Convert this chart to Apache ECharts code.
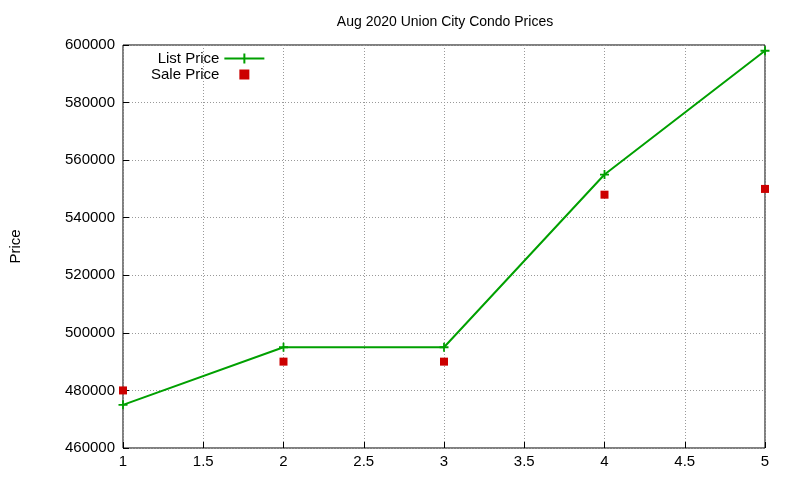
<!DOCTYPE html>
<html><head><meta charset="utf-8">
<script src="https://cdn.jsdelivr.net/npm/echarts@6/dist/echarts.min.js"></script>
<style>html,body{margin:0;background:#fff}#c{width:800px;height:480px}</style>
</head><body><div id="c"></div>
<script>
const xs = [1, 2, 3, 4, 5];
const listPrice = [475000, 495000, 495000, 555000, 598000];
const salePrice = [480000, 490000, 490000, 548000, 550000];
const title = 'Aug 2020 Union City Condo Prices';
const yName = 'Price';

const chart = echarts.init(document.getElementById('c'));
const font = {fontFamily: 'Liberation Sans, Arial', fontSize: 15, color: '#000'};
chart.setOption({
  animation: false,
  title: {text: title, left: 440, top: 10, textAlign: 'center',
    textStyle: {fontFamily: 'Liberation Sans', fontSize: 14, fontWeight: 'normal', color: '#000'}},
  grid: {left: 119, right: 35, top: 45, bottom: 32, show: true, borderColor: '#000', borderWidth: 1},
  legend: {orient: 'vertical', left: 146, top: 46, align: 'right', itemGap: 1, itemWidth: 40, itemHeight: 10,
    textStyle: font,
    data: [{name: 'List Price', icon: 'path://M0,4h40v2h-40zM19,0h2v10h-2z'},
           {name: 'Sale Price', icon: 'path://M16,1h8v8h-8z'}]},
  xAxis: {type: 'value', min: 1, max: 5, interval: 0.5,
    axisLine: {show: false}, axisTick: {inside: true, length: 6, lineStyle: {color: '#000'}},
    axisLabel: Object.assign({margin: 6}, font),
    splitLine: {lineStyle: {type: [1, 2], color: '#999'}}},
  yAxis: {type: 'value', min: 460000, max: 600000, interval: 20000,
    name: yName, nameLocation: 'middle', nameGap: 100, nameTextStyle: font,
    axisLine: {show: false}, axisTick: {show: true, inside: true, length: 6, lineStyle: {color: '#000'}},
    axisLabel: Object.assign({margin: 8, formatter: v => String(v)}, font),
    splitLine: {lineStyle: {type: [1, 2], color: '#999'}}},
  series: [
    {name: 'List Price', type: 'line', data: xs.map((x, i) => [x, listPrice[i]]),
      color: '#00a000', lineStyle: {width: 2, color: '#00a000'},
      symbol: 'path://M0,4h10v2h-10zM4,0h2v10h-2z', symbolSize: 9, itemStyle: {color: '#00a000'}},
    {name: 'Sale Price', type: 'scatter', data: xs.map((x, i) => [x, salePrice[i]]),
      color: '#cc0000', symbol: 'rect', symbolSize: 8, itemStyle: {color: '#cc0000', opacity: 1}}
  ]
});
</script></body></html>
